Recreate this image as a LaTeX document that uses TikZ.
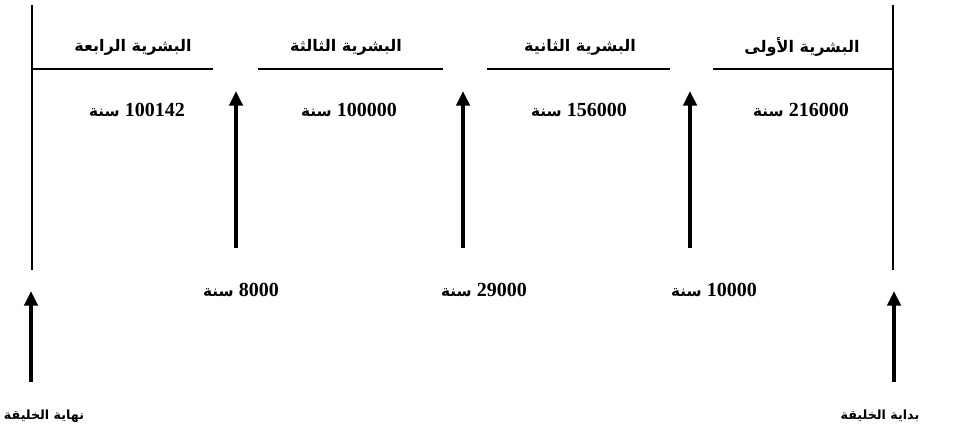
\documentclass[tikz,border=0pt]{standalone}
\usepackage{fontspec}
\setmainfont{Liberation Serif}
\newfontfamily\arabicfont[Script=Arabic]{DejaVu Sans}
\TeXXeTstate=1
\usetikzlibrary{arrows.meta}
\newcommand{\artxt}[1]{{\arabicfont\bfseries\beginR #1\endR}}
\newcommand{\yrtxt}[1]{\beginR\beginL{\bfseries #1}\endL\ {\arabicfont\bfseries\fontsize{11.5}{13}\selectfont سنة}\endR}
\begin{document}
\begin{tikzpicture}[x=0.75pt,y=-0.75pt,
  rule/.style={line width=1.3pt},
  upar/.style={line width=2.6pt,-{Triangle[width=10pt,length=11pt]}},
  head/.style={font=\fontsize{12}{14}\selectfont,inner sep=0pt},
  endlab/.style={font=\fontsize{9.5}{11}\selectfont,inner sep=0pt},
  yr/.style={font=\fontsize{15}{17}\selectfont,inner sep=0pt}]
\useasboundingbox (0,0) rectangle (955,442);
% vertical frame lines
\coordinate (Lt) at (32,5);  \coordinate (Lb) at (32,270);
\coordinate (Rt) at (893,5); \coordinate (Rb) at (893,270);
\draw[rule] (Lt) -- (Lb);
\draw[rule] (Rt) -- (Rb);
% horizontal segments
\coordinate (h1a) at (32,69);  \coordinate (h1b) at (213,69);
\coordinate (h2a) at (258,69); \coordinate (h2b) at (443,69);
\coordinate (h3a) at (487,69); \coordinate (h3b) at (670,69);
\coordinate (h4a) at (713,69); \coordinate (h4b) at (893,69);
\draw[rule] (h1a) -- (h1b);
\draw[rule] (h2a) -- (h2b);
\draw[rule] (h3a) -- (h3b);
\draw[rule] (h4a) -- (h4b);
% headers
\node[head] (n4) at (133,47) {\artxt{البشرية الرابعة}};
\node[head] (n3) at (346,47) {\artxt{البشرية الثالثة}};
\node[head] (n2) at (580,47) {\artxt{البشرية الثانية}};
\node[head] (n1) at (802,47) {\artxt{البشرية الأولى}};
% years
\node[yr] (y4) at (137,110) {\yrtxt{100142}};
\node[yr] (y3) at (349,110) {\yrtxt{100000}};
\node[yr] (y2) at (579,110) {\yrtxt{156000}};
\node[yr] (y1) at (801,110) {\yrtxt{216000}};
% gap arrows
\coordinate (a1s) at (236,248); \coordinate (a1e) at (236,91);
\coordinate (a2s) at (463,248); \coordinate (a2e) at (463,91);
\coordinate (a3s) at (690,248); \coordinate (a3e) at (690,91);
\draw[upar] (a1s) -- (a1e);
\draw[upar] (a2s) -- (a2e);
\draw[upar] (a3s) -- (a3e);
% gap labels
\node[yr] (g1) at (241,290) {\yrtxt{8000}};
\node[yr] (g2) at (484,290) {\yrtxt{29000}};
\node[yr] (g3) at (714,290) {\yrtxt{10000}};
% end arrows
\coordinate (eLs) at (31,382); \coordinate (eLe) at (31,291);
\coordinate (eRs) at (894,382); \coordinate (eRe) at (894,291);
\draw[upar] (eLs) -- (eLe);
\draw[upar] (eRs) -- (eRe);
% end labels
\node[endlab] (endL) at (44,416) {\artxt{نهاية الخليقة}};
\node[endlab] (endR) at (880,416) {\artxt{بداية الخليقة}};
\end{tikzpicture}
\end{document}
